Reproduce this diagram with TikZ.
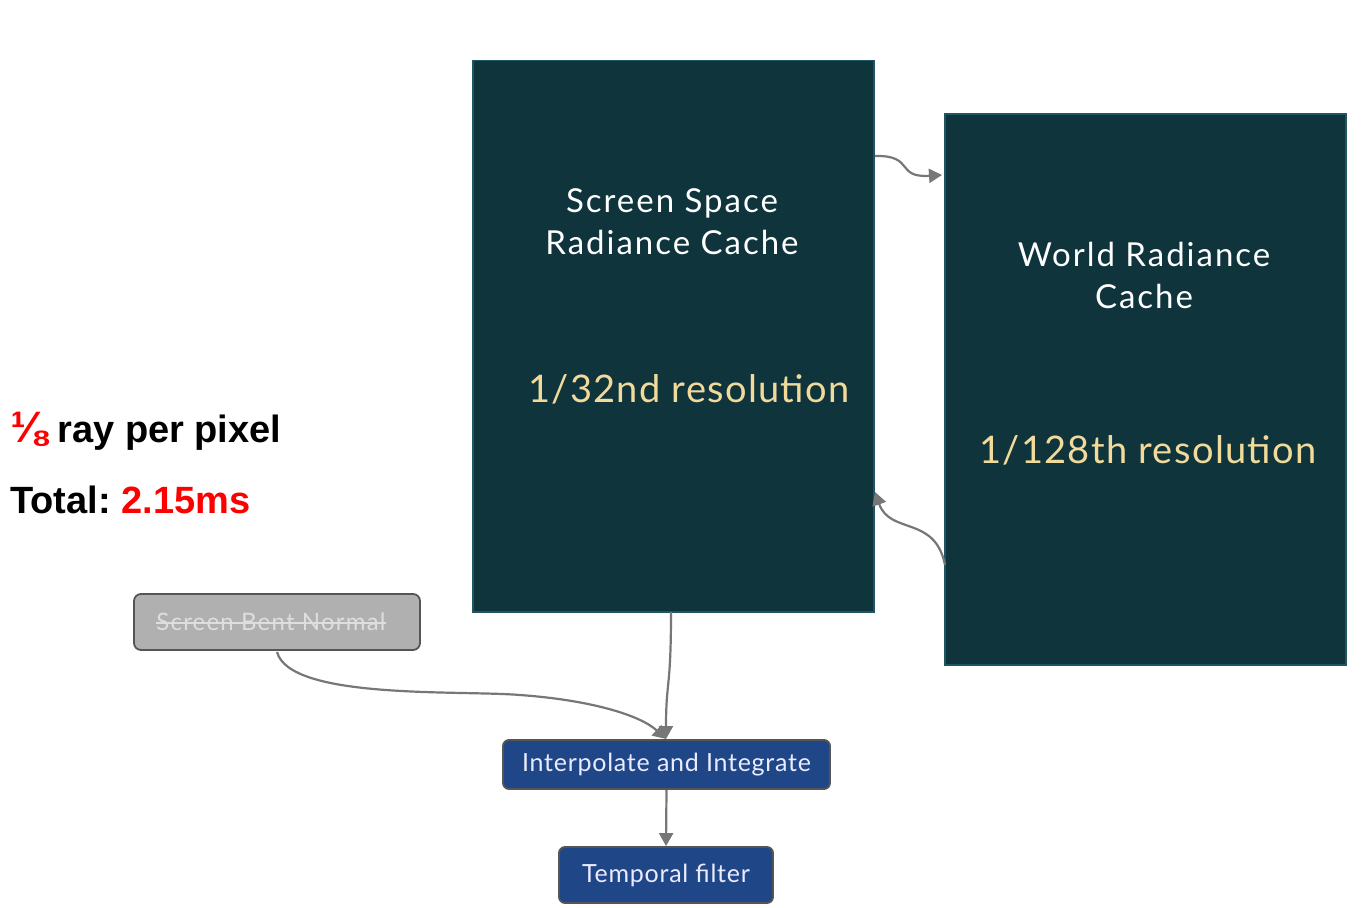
\documentclass[tikz,border=0pt]{standalone}
\usepackage{fontspec}
\setmainfont{Lato}
\newfontfamily\arialfont{Liberation Sans}
\usetikzlibrary{arrows.meta}
\definecolor{cachefill}{HTML}{0F343C}
\definecolor{cacheedge}{HTML}{1E5663}
\definecolor{restext}{HTML}{F2DA9B}
\definecolor{stepfill}{HTML}{1F4788}
\definecolor{stepedge}{HTML}{555555}
\definecolor{greyfill}{HTML}{B0B0B0}
\definecolor{greytext}{HTML}{DEDEDE}
\definecolor{arrowgrey}{HTML}{777777}
\definecolor{hotred}{HTML}{FF0000}
\tikzset{
  cachebox/.style={draw=cacheedge, line width=1.5pt, fill=cachefill, anchor=north west, inner sep=0pt},
  cachetext/.style={text=white, font=\addfontfeature{LetterSpace=6}\fontsize{33}{42}\selectfont, align=center},
  restxt/.style={text=restext, font=\addfontfeature{LetterSpace=3.5}\fontsize{38}{42}\selectfont},
  stepbox/.style={draw=stepedge, line width=1.8pt, fill=stepfill, rounded corners=6pt, text=white!92!blue, font=\addfontfeature{LetterSpace=3}\fontsize{25}{28}\selectfont, inner sep=0pt},
  greybox/.style={draw=stepedge, line width=1.8pt, fill=greyfill, rounded corners=7pt, inner sep=0pt},
  greytxt/.style={text=greytext, font=\addfontfeature{LetterSpace=5}\fontsize{24}{28}\selectfont, inner sep=0pt},
  conn/.style={draw=arrowgrey, line width=2.2pt, -{Triangle[length=13pt,width=14pt]}},
  bigtxt/.style={font=\arialfont\bfseries\fontsize{38}{44}\selectfont, anchor=west, inner sep=0pt}
}
\begin{document}
\begin{tikzpicture}[x=1pt,y=-1pt]
\useasboundingbox (0,0) rectangle (1372,907);
\fill[white] (0,0) rectangle (1372,907);
% cache boxes
\node[cachebox, minimum width=401pt, minimum height=551pt] (ssrc) at (472,60) {};
\node[cachebox, minimum width=401pt, minimum height=551pt] (wrc) at (944,113) {};
\node[cachetext] (ssrct) at (672,222) {Screen Space\\Radiance Cache};
\node[restxt] (ssrcr) at (689,389) {1/32nd resolution};
\node[cachetext] (wrct) at (1144,275) {World Radiance\\Cache};
\node[restxt] (wrcr) at (1148,450) {1/128th resolution};
% small boxes
\node[greybox, minimum width=286pt, minimum height=56pt] (sbn) at (277,622) {};
\node[greytxt] (sbnt) at (271,622) {Screen Bent Normal};
\draw[greytext, line width=1.5pt] ([yshift=-1pt]sbnt.west) -- ([yshift=-1pt]sbnt.east);
\node[stepbox, minimum width=327pt, minimum height=49pt] (interp) at (666.5,764.5) {Interpolate and Integrate};
\node[stepbox, minimum width=214pt, minimum height=56pt] (temp) at (666,875) {Temporal filter};
% left text
\node[bigtxt] (ray) at (10,431) {\textcolor{hotred}{\fontsize{44}{44}\selectfont ⅛} ray per pixel};
\node[bigtxt] (total) at (10,500) {Total:~\textcolor{hotred}{2.15ms}};
% connectors
\coordinate (a1s) at (875,156);
\coordinate (a1e) at (942,175);
\draw[conn] (a1s) .. controls (915,155) and (895,178) .. (a1e);
\coordinate (a2s) at (945,565);
\coordinate (a2e) at (875,492);
\draw[conn] (a2s) .. controls (935,515) and (890,535) .. (a2e);
\coordinate (a3s) at (671,612);
\coordinate (a3e) at (666,739);
\draw[conn] (a3s) .. controls (671,690) and (666,680) .. (a3e);
\coordinate (a4s) at (277,652);
\draw[conn] (a4s) .. controls (290,700) and (460,690) .. (520,695) .. controls (590,700) and (640,715) .. (a3e);
\draw[conn] (interp.south) -- (temp.north);
\end{tikzpicture}
\end{document}
